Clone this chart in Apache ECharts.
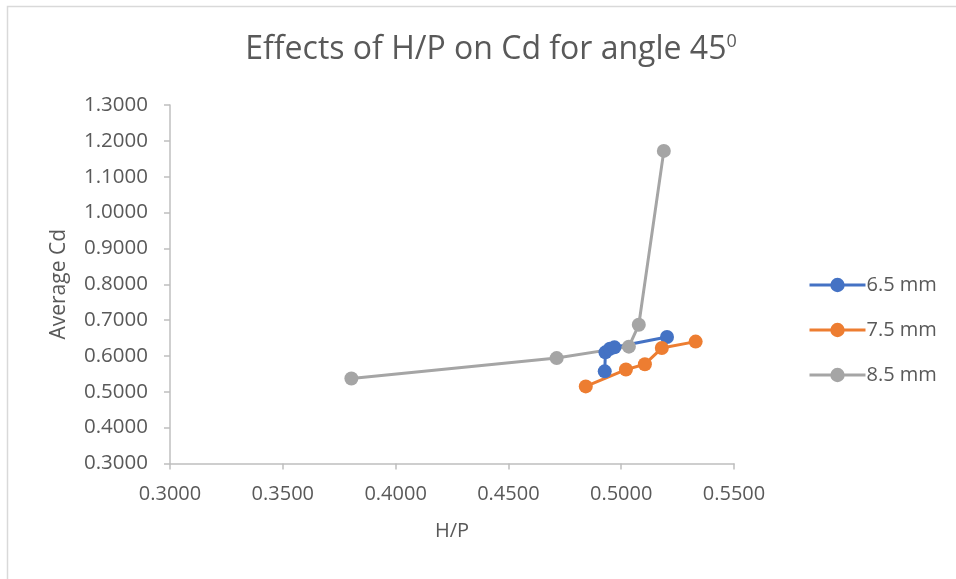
<!DOCTYPE html>
<html><head><meta charset="utf-8">
<script src="https://cdn.jsdelivr.net/npm/echarts@6/dist/echarts.min.js"></script>
<style>html,body{margin:0;padding:0;background:#fff}#c{width:956px;height:579px}</style>
</head><body><div id="c"></div>
<script>
const seriesNames = ['6.5 mm', '7.5 mm', '8.5 mm'];
const colors = ['#4472C4', '#ED7D31', '#A5A5A5'];
const hp65 = [0.4927, 0.4930, 0.4950, 0.4970, 0.5203];
const cd65 = [0.557, 0.610, 0.620, 0.624, 0.653];
const hp75 = [0.4843, 0.5021, 0.5105, 0.5180, 0.5330];
const cd75 = [0.515, 0.562, 0.577, 0.622, 0.640];
const hp85 = [0.3804, 0.4714, 0.5034, 0.5078, 0.5189];
const cd85 = [0.537, 0.594, 0.626, 0.687, 1.172];
const xs = [hp65, hp75, hp85];
const ys = [cd65, cd75, cd85];
const font = 'Open Sans';
const chart = echarts.init(document.getElementById('c'));
chart.setOption({
  animation: false,
  textStyle: {fontFamily: font},
  graphic: [{type: 'rect', shape: {x: 7.5, y: 6.5, width: 1000, height: 1000}, style: {fill: 'none', stroke: '#d9d9d9', lineWidth: 1.5}, silent: true}],
  title: {text: 'Effects of H/P on Cd for angle 45{s|0}', left: 486, top: 28, textAlign: 'center',
    textStyle: {fontFamily: font, fontSize: 32, fontWeight: 'normal', color: '#595959', rich: {s: {fontSize: 18, verticalAlign: 'top', padding: [0,0,15,0], color: '#595959', fontFamily: font}}}},
  grid: {left: 170, right: 222, top: 105, bottom: 115.5},
  legend: {orient: 'vertical', left: 803, top: 270, itemGap: 25, itemWidth: 56, itemHeight: 18,
    textStyle: {fontFamily: font, fontSize: 20, color: '#595959', padding: [0,0,0,-4]},
    lineStyle: {width: 3},
    data: seriesNames},
  xAxis: {type: 'value', min: 0.3, max: 0.55, interval: 0.05,
    name: 'H/P', nameLocation: 'middle', nameGap: 58, nameTextStyle: {fontSize: 20, color: '#595959'},
    axisLine: {lineStyle: {color: '#bfbfbf', width: 1.5}},
    axisTick: {show: true, length: 6, lineStyle: {color: '#bfbfbf', width: 1.5}},
    axisLabel: {fontSize: 20, color: '#595959', margin: 21, formatter: v => v.toFixed(4)},
    splitLine: {show: false}},
  yAxis: {type: 'value', min: 0.3, max: 1.3, interval: 0.1,
    name: 'Average Cd', nameLocation: 'middle', nameGap: 100, nameTextStyle: {fontSize: 21, color: '#595959'},
    axisLine: {show: true, lineStyle: {color: '#bfbfbf', width: 1.5}},
    axisTick: {show: true, length: 6, lineStyle: {color: '#bfbfbf', width: 1.5}},
    axisLabel: {fontSize: 20.5, color: '#595959', margin: 22, formatter: v => v.toFixed(4)},
    splitLine: {show: false}},
  series: seriesNames.map((n, i) => ({
    name: n, type: 'line', symbol: 'circle', symbolSize: 14,
    itemStyle: {color: colors[i]}, lineStyle: {color: colors[i], width: 3},
    data: xs[i].map((x, j) => [x, ys[i][j]])
  }))
});
</script></body></html>
